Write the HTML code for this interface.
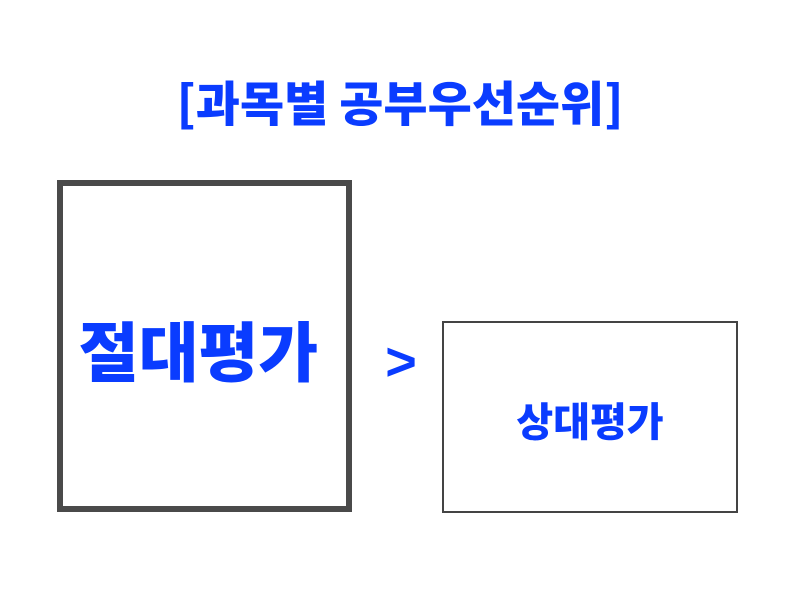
<!DOCTYPE html>
<html><head><meta charset="utf-8"><style>
body{margin:0;width:800px;height:600px;background:#fff;position:relative;overflow:hidden;font-family:"Liberation Sans","Noto Sans CJK KR",sans-serif;}
.t{position:absolute;white-space:nowrap;color:#0a3cff;font-weight:900;font-family:"Noto Sans CJK KR",sans-serif;}
.b{position:absolute;box-sizing:border-box;background:#fff;}
</style></head><body>
<div class="t" style="left:0;width:800px;text-align:center;top:68px;font-size:48px;line-height:64px;">[과목별 공부우선순위]</div>
<div class="b" style="left:57px;top:180px;width:295px;height:332px;border:6px solid #4a4a4a;"></div>
<div class="t" style="left:45px;width:307px;text-align:center;top:306px;font-size:65px;line-height:84px;">절대평가</div>
<div class="t" style="left:371px;width:60px;text-align:center;top:332px;font-size:54px;line-height:60px;font-family:'Liberation Sans',sans-serif;font-weight:bold;">&gt;</div>
<div class="b" style="left:442px;top:321px;width:296px;height:192px;border:2.5px solid #444;"></div>
<div class="t" style="left:442px;width:296px;text-align:center;top:393px;font-size:40px;line-height:52px;">상대평가</div>
</body></html>
